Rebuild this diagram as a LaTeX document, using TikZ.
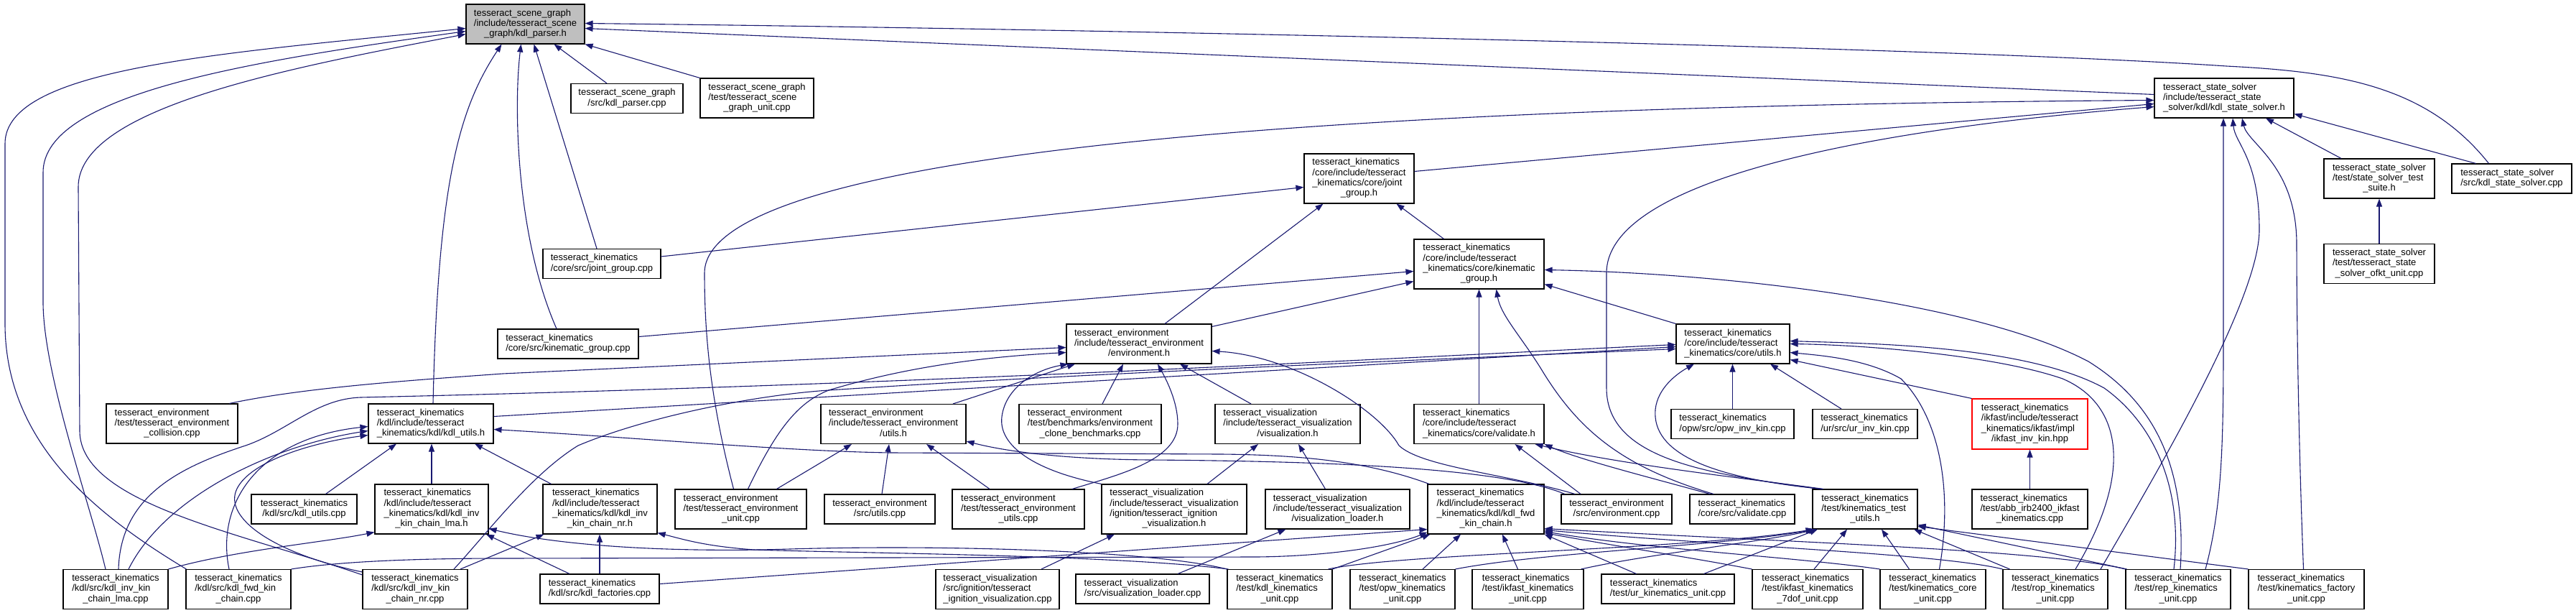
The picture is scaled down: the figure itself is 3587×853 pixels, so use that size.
\documentclass[tikz,border=0pt]{standalone}
\usepackage{fontspec}
\setmainfont{Liberation Sans}
\usetikzlibrary{arrows.meta}
\definecolor{edgeblue}{HTML}{191970}
\definecolor{rootgray}{HTML}{BFBFBF}
\newcommand\nlbl[2]{\begin{tabular}{@{}l@{}}#1\\\multicolumn{1}{@{}c@{}}{#2}\end{tabular}}
\begin{document}
\begin{tikzpicture}[x=1pt,y=-1pt,
  font=\fontsize{13}{14.3}\selectfont,
  box/.style={draw=black,line width=1.1pt,fill=white,inner sep=0pt,align=center},
  h2/.style={minimum height=41pt},
  h3/.style={minimum height=55pt},
  h4/.style={minimum height=69pt},
  e/.style={draw=edgeblue,line width=1.1pt,-{Triangle[length=11pt,width=8pt]}}]
\fill[white] (0,0) rectangle (3587,853);
\useasboundingbox (0,0) rectangle (3587,853);

% ---------- nodes ----------
\node[box,h3,minimum width=165pt,fill=rootgray] (P) at (731.5,33.5) {\nlbl{tesseract\_scene\_graph\\/include/tesseract\_scene}{\_graph/kdl\_parser.h}};
\node[box,h2,minimum width=156pt] (Pcpp) at (873,137) {\nlbl{tesseract\_scene\_graph}{/src/kdl\_parser.cpp}};
\node[box,h3,minimum width=158pt] (SGU) at (1054,136.5) {\nlbl{tesseract\_scene\_graph\\/test/tesseract\_scene}{\_graph\_unit.cpp}};
\node[box,h3,minimum width=194pt] (SS) at (3097,136.5) {\nlbl{tesseract\_state\_solver\\/include/tesseract\_state}{\_solver/kdl/kdl\_state\_solver.h}};
\node[box,h4,minimum width=153pt] (JG) at (1892.5,248.5) {\nlbl{tesseract\_kinematics\\/core/include/tesseract\\\_kinematics/core/joint}{\_group.h}};
\node[box,h3,minimum width=154pt] (SSsuite) at (3313,248.5) {\nlbl{tesseract\_state\_solver\\/test/state\_solver\_test}{\_suite.h}};
\node[box,h2,minimum width=167pt] (SScpp) at (3497.5,248.5) {\nlbl{tesseract\_state\_solver}{/src/kdl\_state\_solver.cpp}};
\node[box,h2,minimum width=164pt] (JGcpp) at (838,367) {\nlbl{tesseract\_kinematics}{/core/src/joint\_group.cpp}};
\node[box,h4,minimum width=181pt] (KG) at (2059.5,367.5) {\nlbl{tesseract\_kinematics\\/core/include/tesseract\\\_kinematics/core/kinematic}{\_group.h}};
\node[box,h3,minimum width=154pt] (OFKT) at (3313,367) {\nlbl{tesseract\_state\_solver\\/test/tesseract\_state}{\_solver\_ofkt\_unit.cpp}};
\node[box,h2,minimum width=196pt] (KGcpp) at (791,478.5) {\nlbl{tesseract\_kinematics}{/core/src/kinematic\_group.cpp}};
\node[box,h3,minimum width=202pt] (ENV) at (1586,478.5) {\nlbl{tesseract\_environment\\/include/tesseract\_environment}{/environment.h}};
\node[box,h3,minimum width=158pt] (CU) at (2413,478.5) {\nlbl{tesseract\_kinematics\\/core/include/tesseract}{\_kinematics/core/utils.h}};
\node[box,h3,minimum width=183pt] (COLL) at (239.5,589.5) {\nlbl{tesseract\_environment\\/test/tesseract\_environment}{\_collision.cpp}};
\node[box,h3,minimum width=174pt] (KU) at (600,589.5) {\nlbl{tesseract\_kinematics\\/kdl/include/tesseract}{\_kinematics/kdl/kdl\_utils.h}};
\node[box,h3,minimum width=202pt] (EU) at (1244,590) {\nlbl{tesseract\_environment\\/include/tesseract\_environment}{/utils.h}};
\node[box,h3,minimum width=198pt] (BENCH) at (1518,590) {\nlbl{tesseract\_environment\\/test/benchmarks/environment}{\_clone\_benchmarks.cpp}};
\node[box,h3,minimum width=202pt] (VIS) at (1793,590) {\nlbl{tesseract\_visualization\\/include/tesseract\_visualization}{/visualization.h}};
\node[box,h3,minimum width=181pt] (VAL) at (2059.5,590) {\nlbl{tesseract\_kinematics\\/core/include/tesseract}{\_kinematics/core/validate.h}};
\node[box,h2,minimum width=171pt] (OPWINV) at (2412.5,590) {\nlbl{tesseract\_kinematics}{/opw/src/opw\_inv\_kin.cpp}};
\node[box,h2,minimum width=146pt] (URINV) at (2597,590) {\nlbl{tesseract\_kinematics}{/ur/src/ur\_inv\_kin.cpp}};
\node[box,minimum height=70pt,minimum width=161pt,draw=red] (IKF) at (2826.5,590) {\nlbl{tesseract\_kinematics\\/ikfast/include/tesseract\\\_kinematics/ikfast/impl}{/ikfast\_inv\_kin.hpp}};
\node[box,h2,minimum width=147pt] (KUcpp) at (423.5,708.5) {\nlbl{tesseract\_kinematics}{/kdl/src/kdl\_utils.cpp}};
\node[box,h4,minimum width=158pt] (LMAh) at (601,708.5) {\nlbl{tesseract\_kinematics\\/kdl/include/tesseract\\\_kinematics/kdl/kdl\_inv}{\_kin\_chain\_lma.h}};
\node[box,h4,minimum width=159pt] (NRh) at (835.5,708.5) {\nlbl{tesseract\_kinematics\\/kdl/include/tesseract\\\_kinematics/kdl/kdl\_inv}{\_kin\_chain\_nr.h}};
\node[box,h3,minimum width=183pt] (EUNIT) at (1031.5,708.5) {\nlbl{tesseract\_environment\\/test/tesseract\_environment}{\_unit.cpp}};
\node[box,h2,minimum width=154pt] (EUcpp) at (1225,708.5) {\nlbl{tesseract\_environment}{/src/utils.cpp}};
\node[box,h3,minimum width=184pt] (EUTEST) at (1418,708.5) {\nlbl{tesseract\_environment\\/test/tesseract\_environment}{\_utils.cpp}};
\node[box,h4,minimum width=202pt] (IGNh) at (1635,708.5) {\nlbl{tesseract\_visualization\\/include/tesseract\_visualization\\/ignition/tesseract\_ignition}{\_visualization.h}};
\node[box,h3,minimum width=201pt] (VLh) at (1862.5,708.5) {\nlbl{tesseract\_visualization\\/include/tesseract\_visualization}{/visualization\_loader.h}};
\node[box,h4,minimum width=162pt] (FWDh) at (2069,708.5) {\nlbl{tesseract\_kinematics\\/kdl/include/tesseract\\\_kinematics/kdl/kdl\_fwd}{\_kin\_chain.h}};
\node[box,h2,minimum width=154pt] (ENVcpp) at (2251,708.5) {\nlbl{tesseract\_environment}{/src/environment.cpp}};
\node[box,h2,minimum width=146pt] (VALcpp) at (2426,708.5) {\nlbl{tesseract\_kinematics}{/core/src/validate.cpp}};
\node[box,h3,minimum width=146pt] (KTU) at (2597,708.5) {\nlbl{tesseract\_kinematics\\/test/kinematics\_test}{\_utils.h}};
\node[box,h3,minimum width=161pt] (ABB) at (2826.5,708.5) {\nlbl{tesseract\_kinematics\\/test/abb\_irb2400\_ikfast}{\_kinematics.cpp}};
\node[box,h3,minimum width=146pt] (LMAcpp) at (161,820) {\nlbl{tesseract\_kinematics\\/kdl/src/kdl\_inv\_kin}{\_chain\_lma.cpp}};
\node[box,h3,minimum width=146pt] (FWDcpp) at (332,820) {\nlbl{tesseract\_kinematics\\/kdl/src/kdl\_fwd\_kin}{\_chain.cpp}};
\node[box,h3,minimum width=146pt] (NRcpp) at (578,820) {\nlbl{tesseract\_kinematics\\/kdl/src/kdl\_inv\_kin}{\_chain\_nr.cpp}};
\node[box,h2,minimum width=166pt] (FACT) at (835,819.5) {\nlbl{tesseract\_kinematics}{/kdl/src/kdl\_factories.cpp}};
\node[box,h3,minimum width=172pt] (IGNcpp) at (1389,820) {\nlbl{tesseract\_visualization\\/src/ignition/tesseract}{\_ignition\_visualization.cpp}};
\node[box,h2,minimum width=186pt] (VLcpp) at (1591,819.5) {\nlbl{tesseract\_visualization}{/src/visualization\_loader.cpp}};
\node[box,h3,minimum width=146pt] (KDLUNIT) at (1782,820) {\nlbl{tesseract\_kinematics\\/test/kdl\_kinematics}{\_unit.cpp}};
\node[box,h3,minimum width=146pt] (OPWUNIT) at (1953,820) {\nlbl{tesseract\_kinematics\\/test/opw\_kinematics}{\_unit.cpp}};
\node[box,h3,minimum width=155pt] (IKFUNIT) at (2127.5,820) {\nlbl{tesseract\_kinematics\\/test/ikfast\_kinematics}{\_unit.cpp}};
\node[box,h2,minimum width=185pt] (URUNIT) at (2322.5,819.5) {\nlbl{tesseract\_kinematics}{/test/ur\_kinematics\_unit.cpp}};
\node[box,h3,minimum width=154pt] (IKF7) at (2517,820) {\nlbl{tesseract\_kinematics\\/test/ikfast\_kinematics}{\_7dof\_unit.cpp}};
\node[box,h3,minimum width=147pt] (CORE) at (2691.5,820) {\nlbl{tesseract\_kinematics\\/test/kinematics\_core}{\_unit.cpp}};
\node[box,h3,minimum width=146pt] (ROP) at (2862,820) {\nlbl{tesseract\_kinematics\\/test/rop\_kinematics}{\_unit.cpp}};
\node[box,h3,minimum width=146pt] (REP) at (3033,820) {\nlbl{tesseract\_kinematics\\/test/rep\_kinematics}{\_unit.cpp}};
\node[box,h3,minimum width=161pt] (FACTU) at (3211.5,820) {\nlbl{tesseract\_kinematics\\/test/kinematics\_factory}{\_unit.cpp}};

% ---------- edges into kdl_parser.h ----------
\draw[e] ([xshift=1pt]FWDcpp.north west) .. controls (140,720) and (7,620) .. (7,450) -- (7,200) .. controls (7,95) and (300,75) .. ([yshift=-6pt]P.west);
\draw[e] ([xshift=-14pt]LMAcpp.north) .. controls (125,700) and (60,520) .. (60,420) -- (60,240) .. controls (60,130) and (350,85) .. ([yshift=-10pt]P.west);
\draw[e] ([yshift=-8pt]NRcpp.north west) .. controls (330,740) and (112,700) .. (111,600) -- (109,260) .. controls (109,150) and (400,95) .. ([yshift=-14pt]P.west);
\draw[e] ([xshift=3pt]KU.north) .. controls (610,250) and (640,150) .. ([xshift=-33pt]P.south);
\draw[e] ([xshift=-16pt]KGcpp.north) .. controls (719,330) and (715,150) .. ([xshift=-6pt]P.south);
\draw[e] ([xshift=-7pt]JGcpp.north) -- ([xshift=12pt]P.south);
\draw[e] ([xshift=-28pt]Pcpp.north) -- ([xshift=40pt]P.south);
\draw[e] (SGU.north west) -- (P.south east);
\draw[e] ([yshift=5pt]SS.west) -- ([yshift=-6pt]P.east);
\draw[e] ([xshift=-32pt]SScpp.north) .. controls (3380,120) and (3260,100) .. (3100,92) .. controls (2700,65) and (1500,40) .. ([yshift=1pt]P.east);

% ---------- kdl_state_solver.h ----------
\draw[e] ([xshift=-53pt]SSsuite.north) -- ([xshift=58pt]SS.south);
\draw[e] ([xshift=-50pt]SScpp.north) -- ([yshift=-22pt]SS.east);
\draw[e] (OFKT.north) -- (SSsuite.south);
\draw[e] ([yshift=10pt]JG.east) -- ([yshift=-8pt]SS.west);
\draw[e] ([xshift=-10pt]EUNIT.north) .. controls (990,560) and (981,470) .. (981,380) .. controls (981,250) and (1500,150) .. ([yshift=-3pt]SS.west);
\draw[e] ([xshift=-62pt]KTU.north) .. controls (2380,660) and (2237,640) .. (2237,540) -- (2237,380) .. controls (2237,250) and (2600,180) .. ([yshift=-12pt]SS.west);
\draw[e] ([xshift=38pt]REP.north) .. controls (3096,700) and (3096,600) .. (3096,450) -- ([xshift=-1pt]SS.south);
\draw[e] ([xshift=63pt]ROP.north) .. controls (2990,680) and (3146,420) .. (3146,320) .. controls (3146,220) and (3112,200) .. ([xshift=12pt]SS.south);
\draw[e] ([xshift=-4pt]FACTU.north) .. controls (3200,600) and (3198,420) .. (3198,340) .. controls (3198,230) and (3130,200) .. ([xshift=25pt]SS.south);

% ---------- joint_group.h ----------
\draw[e] ([yshift=10pt]JGcpp.east) -- ([yshift=-12pt]JG.west);
\draw[e] ([xshift=-49pt]KG.north) -- ([xshift=52pt]JG.south);
\draw[e] ([xshift=36pt]ENV.north) -- ([xshift=-50pt]JG.south);

% ---------- kinematic_group.h ----------
\draw[e] ([yshift=10pt]KGcpp.east) -- ([yshift=-10pt]KG.west);
\draw[e] ([yshift=24pt]ENV.east) -- ([yshift=-24pt]KG.west);
\draw[e] (VAL.north) -- (KG.south);
\draw[e] ([xshift=-40pt]VALcpp.north) .. controls (2260,650) and (2200,600) .. (2150,520) .. controls (2120,470) and (2090,440) .. ([xshift=24pt]KG.south);
\draw[e] (CU.north west) -- ([yshift=-28pt]KG.east);
\draw[e] ([xshift=3pt]REP.north) .. controls (3045,650) and (3000,560) .. (2908,503) .. controls (2750,420) and (2400,380) .. ([yshift=-8pt]KG.east);

% ---------- core/utils.h ----------
\draw[e] ([yshift=10pt]KU.east) -- ([yshift=-4pt]CU.west);
\draw[e] ([xshift=4pt]LMAcpp.north) .. controls (168,690) and (250,650) .. (342,620) .. controls (400,600) and (440,555) .. (502,553) .. controls (1300,535) and (2000,495) .. ([yshift=-1pt]CU.west);
\draw[e] ([xshift=54pt]NRcpp.north) .. controls (680,740) and (740,660) .. (805,620) .. controls (900,580) and (1050,550) .. (1154,543) .. controls (1500,520) and (2000,500) .. ([yshift=-7pt]CU.west);
\draw[e] (OPWINV.north) -- (OPWINV.north |- CU.south);
\draw[e] ([xshift=-33pt]URINV.north) -- ([xshift=52pt]CU.south);
\draw[e] (IKF.north west) -- ([yshift=-22pt]CU.east);
\draw[e] ([xshift=-60pt]KTU.north) .. controls (2380,665) and (2300,630) .. (2305,570) .. controls (2308,540) and (2335,520) .. ([xshift=-54pt]CU.south);
\draw[e] ([xshift=9pt]CORE.north) .. controls (2720,680) and (2700,580) .. (2647,527) .. controls (2600,500) and (2540,495) .. ([yshift=-12pt]CU.east);
\draw[e] ([xshift=28pt]ROP.north) .. controls (2975,650) and (2950,560) .. (2872,527) .. controls (2780,495) and (2600,480) .. (CU.east);
\draw[e] ([xshift=-6pt]REP.north) .. controls (3040,680) and (3000,590) .. (2930,540) .. controls (2820,480) and (2600,478) .. ([yshift=4pt]CU.east);

% ---------- environment.h ----------
\draw[e] ([xshift=80pt]COLL.north) .. controls (420,540) and (560,530) .. (700,520) -- ([yshift=-5pt]ENV.west);
\draw[e] ([xshift=10pt]EUNIT.north) .. controls (1080,600) and (1110,560) .. (1154,543) .. controls (1280,505) and (1400,495) .. ([yshift=-12pt]ENV.west);
\draw[e] ([xshift=83pt]EU.north) -- ([xshift=-89pt]ENV.south);
\draw[e] ([xshift=17pt]BENCH.north) -- ([xshift=-22pt]ENV.south);
\draw[e] (IGNh.north west) .. controls (1440,655) and (1390,620) .. (1395,580) .. controls (1400,540) and (1440,515) .. ([xshift=3pt]ENV.south west);
\draw[e] ([xshift=75pt]EUTEST.north) .. controls (1560,660) and (1640,640) .. (1640,590) .. controls (1640,560) and (1625,530) .. ([xshift=26pt]ENV.south);
\draw[e] ([xshift=-51pt]VIS.north) -- ([xshift=57pt]ENV.south);
\draw[e] ([xshift=-58pt]ENVcpp.north) .. controls (2100,660) and (1980,650) .. (1948,620) .. controls (1920,570) and (1800,495) .. ([yshift=-10pt]ENV.east);

% ---------- environment utils.h ----------
\draw[e] ([xshift=50pt]EUNIT.north) -- ([xshift=-58pt]EU.south);
\draw[e] ([xshift=3pt]EUcpp.north) -- ([xshift=-6pt]EU.south);
\draw[e] ([xshift=-40pt]EUTEST.north) -- ([xshift=46pt]EU.south);
\draw[e] ([xshift=-72pt]ENVcpp.north) .. controls (2100,655) and (1900,642) .. (1600,640) .. controls (1480,639) and (1400,628) .. ([yshift=-24pt]EU.east);

% ---------- visualization ----------
\draw[e] ([xshift=46pt]IGNh.north) -- ([xshift=-41pt]VIS.south);
\draw[e] ([xshift=-17pt]VLh.north) -- ([xshift=15pt]VIS.south);
\draw[e] ([xshift=61pt]IGNcpp.north) -- ([xshift=-83pt]IGNh.south);
\draw[e] ([xshift=49pt]VLcpp.north) -- ([xshift=-72pt]VLh.south);

% ---------- validate.h ----------
\draw[e] ([xshift=-45pt]VALcpp.north) .. controls (2300,665) and (2200,640) .. (VAL.south east);
\draw[e] ([xshift=-50pt]ENVcpp.north) -- ([xshift=50pt]VAL.south);
\draw[e] ([xshift=-58pt]KTU.north) .. controls (2400,662) and (2250,645) .. ([xshift=78pt]VAL.south);

% ---------- kdl_utils.h ----------
\draw[e] ([xshift=30pt]KUcpp.north) -- ([xshift=-48pt]KU.south);
\draw[e] (LMAh.north) -- (LMAh.north |- KU.south);
\draw[e] ([xshift=-68pt]NRh.north) -- ([xshift=61pt]KU.south);
\draw[e] ([xshift=-79pt]FWDh.north) .. controls (1900,640) and (1800,633) .. (1700,632) -- (1240,630) .. controls (1100,628) and (900,610) .. ([yshift=-8pt]KU.east);
\draw[e] ([xshift=18pt]LMAcpp.north) .. controls (230,690) and (380,620) .. ([yshift=-10pt]KU.west);
\draw[e] ([xshift=-13pt]FWDcpp.north) .. controls (300,700) and (360,610) .. ([yshift=-4pt]KU.west);
\draw[e] ([yshift=-4pt]NRcpp.north west) .. controls (380,770) and (310,720) .. (330,680) .. controls (350,640) and (440,615) .. ([yshift=-16pt]KU.west);

% ---------- lma / nr headers ----------
\draw[e] (LMAcpp.north east) .. controls (330,765) and (450,755) .. ([yshift=3pt]LMAh.south west);
\draw[e] ([xshift=-42pt]FACT.north) -- ([xshift=76pt]LMAh.south);
\draw[e] (KDLUNIT.north west) .. controls (1600,765) and (1300,758) .. (1100,764) .. controls (900,770) and (760,755) .. ([yshift=-27pt]LMAh.east);
\draw[e] ([xshift=63pt]NRcpp.north) -- ([xshift=-78pt]NRh.south);
\draw[e] (FACT.north) -- (FACT.north |- NRh.south);
\draw[e] ([xshift=2pt]KDLUNIT.north west) .. controls (1550,772) and (1200,770) .. (1050,765) .. controls (980,760) and (950,750) .. ([yshift=-33pt]NRh.east);

% ---------- kdl_fwd_kin_chain.h ----------
\draw[e] (FWDcpp.north east) .. controls (480,780) and (600,777) .. (700,777) -- (1750,775) .. controls (1850,774) and (1940,760) .. ([yshift=3pt]FWDh.south west);
\draw[e] ([yshift=7pt]FACT.east) -- ([yshift=7pt]FWDh.south west);
\draw[e] (KDLUNIT.north east) -- ([xshift=4pt]FWDh.south west);
\draw[e] ([xshift=28pt]OPWUNIT.north) -- ([xshift=-35pt]FWDh.south);
\draw[e] ([xshift=-14pt]IKFUNIT.north) -- ([xshift=23pt]FWDh.south);
\draw[e] ([xshift=-44pt]URUNIT.north) -- (FWDh.south east);
\draw[e] (IKF7.north west) .. controls (2350,775) and (2250,760) .. ([yshift=-33pt]FWDh.east);
\draw[e] (CORE.north west) .. controls (2500,775) and (2300,765) .. ([yshift=-31pt]FWDh.east);
\draw[e] (ROP.north west) .. controls (2700,770) and (2400,760) .. ([yshift=-29pt]FWDh.east);
\draw[e] (REP.north west) .. controls (2850,765) and (2500,755) .. ([yshift=-27pt]FWDh.east);

% ---------- kinematics_test_utils.h ----------
\draw[e] ([xshift=50pt]URUNIT.north) -- ([xshift=-66pt]KTU.south);
\draw[e] ([xshift=9pt]IKF7.north) -- ([xshift=-25pt]KTU.south);
\draw[e] ([xshift=-33pt]CORE.north) -- ([xshift=23pt]KTU.south);
\draw[e] ([xshift=10pt]ROP.north west) -- ([xshift=68pt]KTU.south);
\draw[e] ([xshift=2pt]REP.north west) -- ([yshift=-22pt]KTU.east);
\draw[e] (FACTU.north west) -- ([yshift=-24pt]KTU.east);
\draw[e] ([xshift=-6pt]KDLUNIT.north east) .. controls (1950,770) and (2350,765) .. ([xshift=2pt]KTU.south west);
\draw[e] (OPWUNIT.north east) .. controls (2150,768) and (2400,760) .. ([xshift=4pt]KTU.south west);
\draw[e] ([xshift=-4pt]IKFUNIT.north east) .. controls (2300,770) and (2450,755) .. ([xshift=6pt]KTU.south west);

% ---------- ikfast ----------
\draw[e] (ABB.north) -- (IKF.south);
\end{tikzpicture}
\end{document}
